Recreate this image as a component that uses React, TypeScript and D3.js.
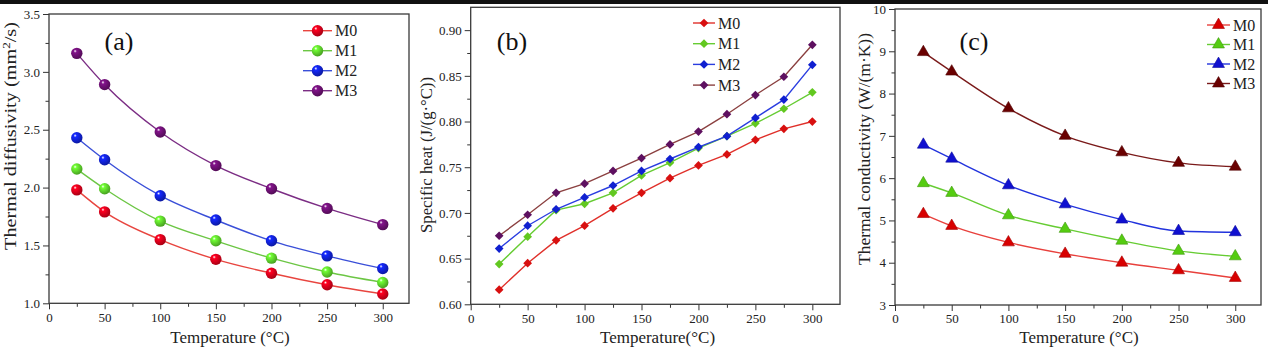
import { useEffect, useRef } from "react";
import * as d3 from "d3";

const SERIES = ["M0", "M1", "M2", "M3"];
const TEMP_COARSE = [25, 50, 100, 150, 200, 250, 300];
const TEMP_FINE = [25, 50, 75, 100, 125, 150, 175, 200, 225, 250, 275, 300];
const X_TICKS = [0, 50, 100, 150, 200, 250, 300];
const X_MINOR = [25, 75, 125, 175, 225, 275];

// thermal diffusivity, mm2/s
const diffusivity = [
  [1.98, 1.79, 1.55, 1.38, 1.26, 1.16, 1.08],
  [2.16, 1.99, 1.71, 1.54, 1.39, 1.27, 1.18],
  [2.43, 2.24, 1.93, 1.72, 1.54, 1.41, 1.3],
  [3.16, 2.89, 2.48, 2.19, 1.99, 1.82, 1.68],
];

// specific heat, J/(g.C)
const specificHeat = [
  [0.616, 0.645, 0.67, 0.686, 0.705, 0.722, 0.738, 0.752, 0.764, 0.78, 0.792, 0.8],
  [0.644, 0.674, 0.703, 0.71, 0.722, 0.741, 0.755, 0.771, 0.784, 0.798, 0.814, 0.832],
  [0.661, 0.686, 0.704, 0.717, 0.73, 0.746, 0.759, 0.772, 0.784, 0.804, 0.824, 0.862],
  [0.675, 0.698, 0.722, 0.732, 0.746, 0.76, 0.775, 0.789, 0.808, 0.829, 0.849, 0.884],
];

// thermal conductivity, W/(m.K)
const conductivity = [
  [5.15, 4.87, 4.48, 4.21, 4.0, 3.82, 3.64],
  [5.88, 5.65, 5.12, 4.8, 4.52, 4.28, 4.15],
  [6.79, 6.46, 5.83, 5.38, 5.02, 4.75, 4.72],
  [8.98, 8.52, 7.65, 7.0, 6.61, 6.36, 6.27],
];

const FONT = "'Liberation Serif', 'Times New Roman', serif";
const TICK = "#333";

const drawMarker = (sel, type, fill, cx, cy) => {
  if (type === "sphere") {
    sel.append("circle").attr("cx", cx).attr("cy", cy).attr("r", 5.7).attr("fill", fill);
  } else if (type === "diamond") {
    sel
      .append("path")
      .attr("d", d3.symbol(d3.symbolSquare, 38)())
      .attr("transform", `translate(${cx},${cy}) rotate(45)`)
      .attr("fill", fill);
  } else {
    sel
      .append("path")
      .attr("d", d3.symbol(d3.symbolTriangle, 62)())
      .attr("transform", `translate(${cx},${cy})`)
      .attr("fill", fill)
      .attr("stroke", d3.color(fill).darker(0.8))
      .attr("stroke-width", 0.6);
  }
};

const Panel = ({
  id,
  box,
  xMax,
  yDomain,
  yStep,
  yFormat,
  temps,
  values,
  lineColors,
  markColors,
  marker,
  smooth,
  tag,
  tagX,
  yTitle,
  yTitleX,
  yTitleY,
  yTitleLen,
  xTitle,
  xTitleX,
  legend,
}) => {
  const ref = useRef(null);

  useEffect(() => {
    const g = d3.select(ref.current);
    g.selectAll("*").remove();

    const x = d3.scaleLinear().domain([0, xMax]).range([box.left, box.right]);
    const y = d3.scaleLinear().domain(yDomain).range([box.bottom, box.top]);

    const nMajor = Math.floor((yDomain[1] - yDomain[0]) / yStep + 1e-6);
    const yMajor = d3.range(0, nMajor + 1).map((i) => +(yDomain[0] + i * yStep).toFixed(4));
    const yMinor = d3
      .range(0, nMajor + 1)
      .map((i) => +(yDomain[0] + (i + 0.5) * yStep).toFixed(4))
      .filter((v) => v < yDomain[1] - 1e-6);

    // gradients for the shaded markers
    const defs = g.append("defs");
    markColors.forEach((c, i) => {
      const grad = defs
        .append("radialGradient")
        .attr("id", `${id}-grad-${i}`)
        .attr("cx", "38%")
        .attr("cy", "35%")
        .attr("r", "65%")
        .attr("fx", "35%")
        .attr("fy", "30%");
      grad.append("stop").attr("offset", "0%").attr("stop-color", "#ffffff");
      grad.append("stop").attr("offset", "22%").attr("stop-color", d3.color(c).brighter(0.6));
      grad.append("stop").attr("offset", "100%").attr("stop-color", d3.color(c).darker(0.7));
    });
    const fillOf = (i) => (marker === "sphere" ? `url(#${id}-grad-${i})` : markColors[i]);

    // axes
    const styleAxis = (a) => {
      a.select(".domain").remove();
      a.selectAll("line").attr("stroke", TICK).attr("stroke-width", 1);
      a.selectAll("text")
        .attr("fill", "#222")
        .style("font-family", FONT)
        .style("font-size", "13px");
    };

    g.append("g")
      .attr("transform", `translate(0,${box.bottom})`)
      .call(d3.axisBottom(x).tickValues(X_MINOR).tickSize(3.5).tickFormat(() => ""))
      .call(styleAxis);
    g.append("g")
      .attr("transform", `translate(0,${box.bottom})`)
      .call(d3.axisBottom(x).tickValues(X_TICKS).tickSize(6).tickPadding(3).tickFormat(d3.format("d")))
      .call(styleAxis);
    g.append("g")
      .attr("transform", `translate(${box.left},0)`)
      .call(d3.axisLeft(y).tickValues(yMinor).tickSize(3.5).tickFormat(() => ""))
      .call(styleAxis);
    g.append("g")
      .attr("transform", `translate(${box.left},0)`)
      .call(d3.axisLeft(y).tickValues(yMajor).tickSize(6).tickPadding(3).tickFormat(d3.format(yFormat)))
      .call(styleAxis);

    g.append("rect")
      .attr("x", box.left)
      .attr("y", box.top)
      .attr("width", box.right - box.left)
      .attr("height", box.bottom - box.top)
      .attr("fill", "none")
      .attr("stroke", "#3a3a3a")
      .attr("stroke-width", 1.3);

    // series
    const line = d3
      .line()
      .x((d) => x(d[0]))
      .y((d) => y(d[1]))
      .curve(smooth ? d3.curveMonotoneX : d3.curveLinear);

    values.forEach((vals, i) => {
      const pts = temps.map((t, k) => [t, vals[k]]);
      g.append("path")
        .datum(pts)
        .attr("fill", "none")
        .attr("stroke", lineColors[i])
        .attr("stroke-width", 1.4)
        .attr("d", line);
      const mg = g.append("g");
      pts.forEach((p) => drawMarker(mg, marker, fillOf(i), x(p[0]), y(p[1])));
    });

    // legend
    SERIES.forEach((name, i) => {
      const ly = legend.y + i * legend.gap;
      g.append("line")
        .attr("x1", legend.x)
        .attr("x2", legend.x + legend.w)
        .attr("y1", ly)
        .attr("y2", ly)
        .attr("stroke", lineColors[i])
        .attr("stroke-width", 1.4);
      drawMarker(g, marker, fillOf(i), legend.x + legend.w / 2, ly);
      g.append("text")
        .attr("x", legend.x + legend.w + 3)
        .attr("y", ly)
        .attr("dy", "0.35em")
        .style("font-family", FONT)
        .style("font-size", "16px")
        .attr("fill", "#222")
        .text(name);
    });

    // panel tag
    g.append("text")
      .attr("x", tagX)
      .attr("y", 50)
      .attr("text-anchor", "middle")
      .style("font-family", FONT)
      .style("font-size", "26px")
      .attr("fill", "#111")
      .text(tag);

    // axis titles
    g.append("text")
      .attr("x", xTitleX)
      .attr("y", 343)
      .attr("text-anchor", "middle")
      .style("font-family", FONT)
      .style("font-size", "17px")
      .attr("fill", "#222")
      .text(xTitle);

    const yt = g
      .append("text")
      .attr("transform", `translate(${yTitleX},${yTitleY}) rotate(-90)`)
      .attr("text-anchor", "middle")
      .attr("textLength", yTitleLen)
      .attr("lengthAdjust", "spacingAndGlyphs")
      .style("font-family", FONT)
      .style("font-size", "17px")
      .attr("fill", "#222");
    yTitle.forEach((part) => {
      const ts = yt.append("tspan").text(part.text);
      if (part.sup) ts.attr("baseline-shift", "super").style("font-size", "11px");
    });
  }, []);

  return <g ref={ref} />;
};

export default function App() {
  return (
    <svg
      width={1268}
      height={351}
      style={{ position: "absolute", left: 0, top: 0, background: "#fff" }}
    >
      <rect x={0} y={0} width={1268} height={351} fill="#fff" />
      <rect x={0} y={0} width={1268} height={4} fill="#111" />
      <Panel
        id="a"
        box={{ left: 49, right: 409, top: 14, bottom: 303.3 }}
        xMax={323.6}
        yDomain={[1.0, 3.5]}
        yStep={0.5}
        yFormat=".1f"
        temps={TEMP_COARSE}
        values={diffusivity}
        lineColors={["#e8453f", "#6cc644", "#3a4fd8", "#7b2d84"]}
        markColors={["#d8001a", "#5ccf2a", "#1020d0", "#6a0f70"]}
        marker="sphere"
        smooth
        tag="(a)"
        tagX={119}
        yTitle={[{ text: "Thermal diffusivity (mm" }, { text: "2", sup: true }, { text: "/s)" }]}
        yTitleX={16}
        yTitleY={136}
        yTitleLen={228}
        xTitle="Temperature (°C)"
        xTitleX={230}
        legend={{ x: 303, y: 30.7, gap: 20, w: 29 }}
      />
      <Panel
        id="b"
        box={{ left: 470.7, right: 840, top: 7.3, bottom: 304.3 }}
        xMax={324.3}
        yDomain={[0.6, 0.925]}
        yStep={0.05}
        yFormat=".2f"
        temps={TEMP_FINE}
        values={specificHeat}
        lineColors={["#e0302a", "#66cc33", "#2a3de0", "#8b4040"]}
        markColors={["#d81010", "#62c820", "#1020d0", "#5e1060"]}
        marker="diamond"
        smooth={false}
        tag="(b)"
        tagX={512}
        yTitle={[{ text: "Specific heat (J/(g·°C))" }]}
        yTitleX={432}
        yTitleY={155}
        yTitleLen={156}
        xTitle="Temperature(°C)"
        xTitleX={657.5}
        legend={{ x: 693, y: 23, gap: 20.7, w: 22 }}
      />
      <Panel
        id="c"
        box={{ left: 895, right: 1261, top: 9, bottom: 305 }}
        xMax={322.7}
        yDomain={[3, 10]}
        yStep={1}
        yFormat="d"
        temps={TEMP_COARSE}
        values={conductivity}
        lineColors={["#e8403c", "#66cc33", "#2233dd", "#7a1a1a"]}
        markColors={["#d80000", "#55cc11", "#1010d0", "#6a0000"]}
        marker="triangle"
        smooth
        tag="(c)"
        tagX={974}
        yTitle={[{ text: "Thermal conductivity (W/(m·K))" }]}
        yTitleX={870}
        yTitleY={149}
        yTitleLen={232}
        xTitle="Temperature (°C)"
        xTitleX={1079}
        legend={{ x: 1207, y: 25, gap: 19.5, w: 23 }}
      />
    </svg>
  );
}
